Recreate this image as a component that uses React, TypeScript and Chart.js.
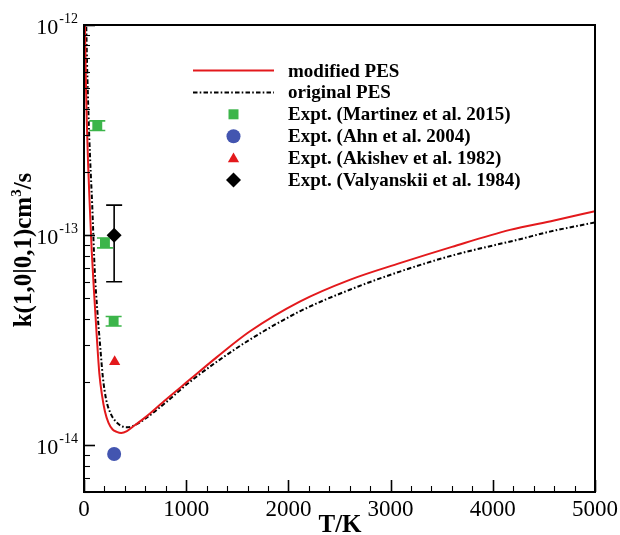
import React, { useEffect, useRef } from 'react';
import { Chart, registerables } from 'chart.js';
Chart.register(...registerables);

// modified PES (red solid)
const modT = [8, 18, 27, 40, 54, 75, 100, 125, 150, 175, 205, 240, 280, 320, 364, 420, 500, 609, 800, 1033, 1300, 1621, 2111, 2600, 3090, 3600, 4168, 4600, 5000];
const modK = [1.1e-12, 5.5e-13, 3.5e-13, 2.2e-13, 1.47e-13, 8.5e-14, 5.2e-14, 3.3e-14, 2.2e-14, 1.75e-14, 1.45e-14, 1.28e-14, 1.19e-14, 1.16e-14, 1.146e-14, 1.17e-14, 1.25e-14, 1.37e-14, 1.65e-14, 2.05e-14, 2.63e-14, 3.48e-14, 4.83e-14, 6.13e-14, 7.36e-14, 8.8e-14, 1.06e-13, 1.175e-13, 1.3e-13];
// original PES (black dash-dot)
const origT = [20, 30, 45, 60, 80, 105, 130, 155, 185, 217, 260, 310, 377, 429, 500, 609, 800, 1033, 1300, 1621, 2111, 2600, 3090, 3600, 4265, 4559, 5000];
const origK = [1.1e-12, 6.5e-13, 3.6e-13, 2.3e-13, 1.4e-13, 6.8e-14, 4.4e-14, 3.1e-14, 2.1e-14, 1.65e-14, 1.42e-14, 1.3e-14, 1.23e-14, 1.22e-14, 1.25e-14, 1.35e-14, 1.6e-14, 2.0e-14, 2.5e-14, 3.18e-14, 4.34e-14, 5.5e-14, 6.71e-14, 8.0e-14, 9.57e-14, 1.04e-13, 1.15e-13];
// experiments
const martinezT = [130, 205, 290];
const martinezK = [3.33e-13, 9.2e-14, 3.9e-14];
const martinezLo = [3.15e-13, 8.7e-14, 3.7e-14];
const martinezHi = [3.5e-13, 9.7e-14, 4.1e-14];
const ahnT = [295];
const ahnK = [9.1e-15];
const akishevT = [300];
const akishevK = [2.5e-14];
const valyT = [295];
const valyK = [1.0e-13];
const valyLo = [6.0e-14];
const valyHi = [1.39e-13];

const xTickValues = [0, 1000, 2000, 3000, 4000, 5000];
const yTickExponents = [-14, -13, -12];
const legendLabels = [
  'modified PES',
  'original PES',
  'Expt. (Martinez et al. 2015)',
  'Expt. (Ahn et al. 2004)',
  'Expt. (Akishev et al. 1982)',
  'Expt. (Valyanskii et al. 1984)',
];

const RED = '#e3191c';
const GREEN = '#3cb54a';
const BLUE = '#4355b0';
const BLACK = '#000000';
const SERIF = '"Liberation Serif", "Times New Roman", serif';
const DASH = [4.5, 2.2, 1.6, 2.2];

const pts = (xs: number[], ys: number[]) => xs.map((x, i) => ({ x, y: ys[i] }));

function drawMarker(ctx: CanvasRenderingContext2D, kind: string, x: number, y: number, color: string) {
  ctx.save();
  ctx.fillStyle = color;
  ctx.beginPath();
  if (kind === 'rect') {
    ctx.rect(x - 5, y - 5, 10, 10);
  } else if (kind === 'circle') {
    ctx.arc(x, y, 7, 0, Math.PI * 2);
  } else if (kind === 'triangle') {
    const r = 6.5;
    ctx.moveTo(x, y - r);
    ctx.lineTo(x + r * 0.866, y + r * 0.5);
    ctx.lineTo(x - r * 0.866, y + r * 0.5);
    ctx.closePath();
  } else if (kind === 'diamond') {
    const r = 7.5;
    ctx.moveTo(x, y - r);
    ctx.lineTo(x + r, y);
    ctx.lineTo(x, y + r);
    ctx.lineTo(x - r, y);
    ctx.closePath();
  }
  ctx.fill();
  ctx.restore();
}

const decorPlugin = {
  id: 'decor',
  beforeDatasetsDraw(chart: any) {
    const ctx = chart.ctx as CanvasRenderingContext2D;
    const xs = chart.scales.x;
    const ys = chart.scales.y;
    const bar = (t: number, lo: number, hi: number, color: string) => {
      const px = xs.getPixelForValue(t);
      const y1 = ys.getPixelForValue(lo);
      const y2 = ys.getPixelForValue(hi);
      ctx.save();
      ctx.strokeStyle = color;
      ctx.lineWidth = 1.6;
      ctx.beginPath();
      ctx.moveTo(px, y1);
      ctx.lineTo(px, y2);
      ctx.moveTo(px - 8, y1);
      ctx.lineTo(px + 8, y1);
      ctx.moveTo(px - 8, y2);
      ctx.lineTo(px + 8, y2);
      ctx.stroke();
      ctx.restore();
    };
    martinezT.forEach((t, i) => bar(t, martinezLo[i], martinezHi[i], GREEN));
    valyT.forEach((t, i) => bar(t, valyLo[i], valyHi[i], BLACK));
  },
  afterDraw(chart: any) {
    const ctx = chart.ctx as CanvasRenderingContext2D;
    const { left, right, top, bottom } = chart.chartArea;
    const xs = chart.scales.x;
    const ys = chart.scales.y;
    ctx.save();
    // frame
    ctx.strokeStyle = '#000';
    ctx.lineWidth = 2;
    ctx.strokeRect(left, top, right - left, bottom - top);
    // x ticks
    for (let t = 0; t <= 5000; t += 200) {
      const px = Math.round(xs.getPixelForValue(t)) + 0.5;
      const major = t % 1000 === 0;
      ctx.lineWidth = major ? 1.6 : 1.1;
      ctx.beginPath();
      ctx.moveTo(px, bottom);
      ctx.lineTo(px, bottom - (major ? 12 : 6));
      ctx.stroke();
    }
    // y ticks
    for (let e = -15; e <= -12; e++) {
      for (let m = 1; m <= 9; m++) {
        const v = m * Math.pow(10, e);
        if (v < ys.min * 0.999 || v > ys.max * 1.001) continue;
        const py = Math.round(ys.getPixelForValue(v)) + 0.5;
        const major = m === 1;
        ctx.lineWidth = major ? 1.6 : 1.1;
        ctx.beginPath();
        ctx.moveTo(left, py);
        ctx.lineTo(left + (major ? 11 : 6), py);
        ctx.stroke();
      }
    }
    // x tick labels
    ctx.fillStyle = '#000';
    ctx.font = `23px ${SERIF}`;
    ctx.textAlign = 'center';
    ctx.textBaseline = 'alphabetic';
    xTickValues.forEach((t) => {
      ctx.fillText(String(t), xs.getPixelForValue(t), bottom + 24);
    });
    // y tick labels
    yTickExponents.forEach((e) => {
      const py = ys.getPixelForValue(Math.pow(10, e));
      const base = '10';
      const sup = String(e);
      ctx.font = `22px ${SERIF}`;
      const wb = ctx.measureText(base).width;
      ctx.font = `14px ${SERIF}`;
      const wsup = ctx.measureText(sup).width;
      const x0 = left - 7 - wb - wsup;
      ctx.textAlign = 'left';
      ctx.font = `22px ${SERIF}`;
      ctx.fillText(base, x0, py + 9);
      ctx.font = `14px ${SERIF}`;
      ctx.fillText(sup, x0 + wb + 1, py - 2);
    });
    // x title
    ctx.font = `bold 25px ${SERIF}`;
    ctx.textAlign = 'center';
    ctx.fillText('T/K', 340, 532);
    // y title
    ctx.save();
    ctx.translate(31, 250);
    ctx.rotate(-Math.PI / 2);
    const p1 = 'k(1,0|0,1)cm';
    const p2 = '3';
    const p3 = '/s';
    ctx.font = `bold 25px ${SERIF}`;
    const w1 = ctx.measureText(p1).width;
    const w3 = ctx.measureText(p3).width;
    ctx.font = `bold 15px ${SERIF}`;
    const w2 = ctx.measureText(p2).width;
    let sx = -(w1 + w2 + w3) / 2;
    ctx.textAlign = 'left';
    ctx.font = `bold 25px ${SERIF}`;
    ctx.fillText(p1, sx, 0);
    sx += w1;
    ctx.font = `bold 15px ${SERIF}`;
    ctx.fillText(p2, sx, -10);
    sx += w2;
    ctx.font = `bold 25px ${SERIF}`;
    ctx.fillText(p3, sx, 0);
    ctx.restore();
    // legend
    const rowY = (i: number) => 70.5 + 21.9 * i;
    ctx.lineWidth = 2;
    ctx.strokeStyle = RED;
    ctx.setLineDash([]);
    ctx.beginPath();
    ctx.moveTo(193, rowY(0));
    ctx.lineTo(274, rowY(0));
    ctx.stroke();
    ctx.strokeStyle = BLACK;
    ctx.setLineDash(DASH);
    ctx.beginPath();
    ctx.moveTo(193, rowY(1));
    ctx.lineTo(274, rowY(1));
    ctx.stroke();
    ctx.setLineDash([]);
    drawMarker(ctx, 'rect', 233.5, rowY(2), GREEN);
    drawMarker(ctx, 'circle', 233.5, rowY(3), BLUE);
    drawMarker(ctx, 'triangle', 233.5, rowY(4) + 1, RED);
    drawMarker(ctx, 'diamond', 233.5, rowY(5), BLACK);
    ctx.fillStyle = '#000';
    ctx.font = `bold 19px ${SERIF}`;
    ctx.textAlign = 'left';
    legendLabels.forEach((lab, i) => ctx.fillText(lab, 288, rowY(i) + 6));
    ctx.restore();
  },
};

export default function App() {
  const ref = useRef<HTMLCanvasElement | null>(null);
  useEffect(() => {
    if (!ref.current) return;
    const chart = new Chart(ref.current, {
      type: 'scatter',
      data: {
        datasets: [
          {
            label: 'modified PES',
            data: pts(modT, modK),
            showLine: true,
            borderColor: RED,
            borderWidth: 2,
            pointRadius: 0,
            cubicInterpolationMode: 'monotone',
          },
          {
            label: 'original PES',
            data: pts(origT, origK),
            showLine: true,
            borderColor: BLACK,
            borderWidth: 2,
            borderDash: DASH,
            pointRadius: 0,
            cubicInterpolationMode: 'monotone',
          },
          {
            label: 'Martinez',
            data: pts(martinezT, martinezK),
            pointStyle: 'rect',
            pointRadius: 7,
            backgroundColor: GREEN,
            borderWidth: 0,
          },
          {
            label: 'Ahn',
            data: pts(ahnT, ahnK),
            pointStyle: 'circle',
            pointRadius: 7,
            backgroundColor: BLUE,
            borderWidth: 0,
          },
          {
            label: 'Akishev',
            data: pts(akishevT, akishevK),
            pointStyle: 'triangle',
            pointRadius: 6.5,
            backgroundColor: RED,
            borderWidth: 0,
          },
          {
            label: 'Valyanskii',
            data: pts(valyT, valyK),
            pointStyle: 'rectRot',
            pointRadius: 7.5,
            backgroundColor: BLACK,
            borderWidth: 0,
          },
        ] as any,
      },
      options: {
        responsive: false,
        devicePixelRatio: 1,
        animation: false,
        events: [],
        layout: { padding: { left: 84, right: 25, top: 25, bottom: 43 } },
        plugins: { legend: { display: false }, tooltip: { enabled: false } },
        scales: {
          x: { type: 'linear', min: 0, max: 5000, display: false },
          y: { type: 'logarithmic', min: 6e-15, max: 1e-12, display: false },
        },
      } as any,
      plugins: [decorPlugin],
    });
    return () => chart.destroy();
  }, []);
  return (
    <div style={{ position: 'absolute', left: 0, top: 0, width: 620, height: 535, background: '#fff' }}>
      <canvas ref={ref} width={620} height={535} style={{ width: 620, height: 535, display: 'block' }} />
    </div>
  );
}
